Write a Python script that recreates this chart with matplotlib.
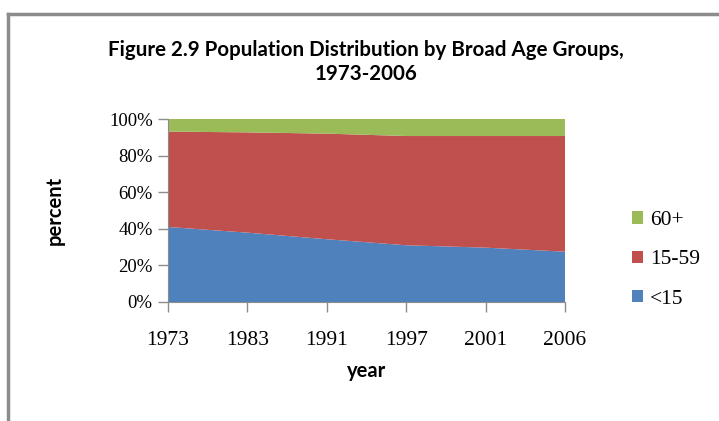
import numpy as np
import matplotlib
matplotlib.use("Agg")
import matplotlib.pyplot as plt
from matplotlib.patches import Patch
from matplotlib.lines import Line2D

# values (percent of population)
years = ['1973', '1983', '1991', '1997', '2001', '2006']
under15 = [41.0, 37.9, 34.3, 31.0, 29.7, 27.5]
age15_59 = [52.1, 54.8, 57.7, 59.7, 61.0, 63.2]
age60 = [6.9, 7.3, 8.0, 9.3, 9.3, 9.3]
labels = ['<15', '15-59', '60+']
colors = ['#4F81BD', '#C0504D', '#9BBB59']

W, H = 719, 421
fig = plt.figure(figsize=(W / 100, H / 100), dpi=100)

# grey frame round the chart area (runs off right and bottom edges)
fig.add_artist(Line2D([8 / W, 8 / W], [0, 1 - 14 / H], color='#8c8c8c', lw=2.5,
                      transform=fig.transFigure))
fig.add_artist(Line2D([8 / W, 1], [1 - 14 / H, 1 - 14 / H], color='#8c8c8c', lw=2.5,
                      transform=fig.transFigure))

ax = fig.add_axes([168 / W, 1 - 302 / H, 397 / W, 183 / H])
x = np.arange(len(years))
ax.stackplot(x, under15, age15_59, age60, colors=colors, labels=labels, lw=0)
ax.set_xlim(0, len(years) - 1)
ax.set_ylim(0, 100)

serif = 'Liberation Serif'
ax.set_yticks(np.arange(0, 101, 20))
ax.set_yticklabels([f'{v}%' for v in range(0, 101, 20)], family=serif, fontsize=13.5)
ax.set_xticks(x)
ax.set_xticklabels(years, family=serif, fontsize=15.5)
ax.tick_params(axis='y', length=7, width=1, color='#8c8c8c', pad=4)
ax.tick_params(axis='x', length=7, width=1, color='#8c8c8c', pad=14)
for s in ['top', 'right']:
    ax.spines[s].set_visible(False)
for s in ['left', 'bottom']:
    ax.spines[s].set_color('#8c8c8c')

ax.set_xlabel('year', family='Lato', fontweight='bold', fontsize=14.5, labelpad=8)
ax.set_ylabel('percent', family='Lato', fontweight='bold', fontsize=14.5, labelpad=32)

fig.text(366 / W, 1 - 50 / H, 'Figure 2.9 Population Distribution by Broad Age Groups,',
         ha='center', va='center', family='Lato', fontweight='bold', fontsize=14.8)
fig.text(366 / W, 1 - 74 / H, '1973-2006',
         ha='center', va='center', family='Lato', fontweight='bold', fontsize=14.8)

handles = [Patch(facecolor=c, edgecolor='none') for c in colors]
leg = fig.legend(handles[::-1], labels[::-1], loc='center left',
                 bbox_to_anchor=(632 / W, 1 - 260 / H), frameon=False,
                 borderpad=0, borderaxespad=0, handlelength=0.5, handleheight=0.5,
                 handletextpad=0.35, labelspacing=0.95,
                 prop={'family': serif, 'size': 15.5})

fig.savefig('out.png', dpi=100)
